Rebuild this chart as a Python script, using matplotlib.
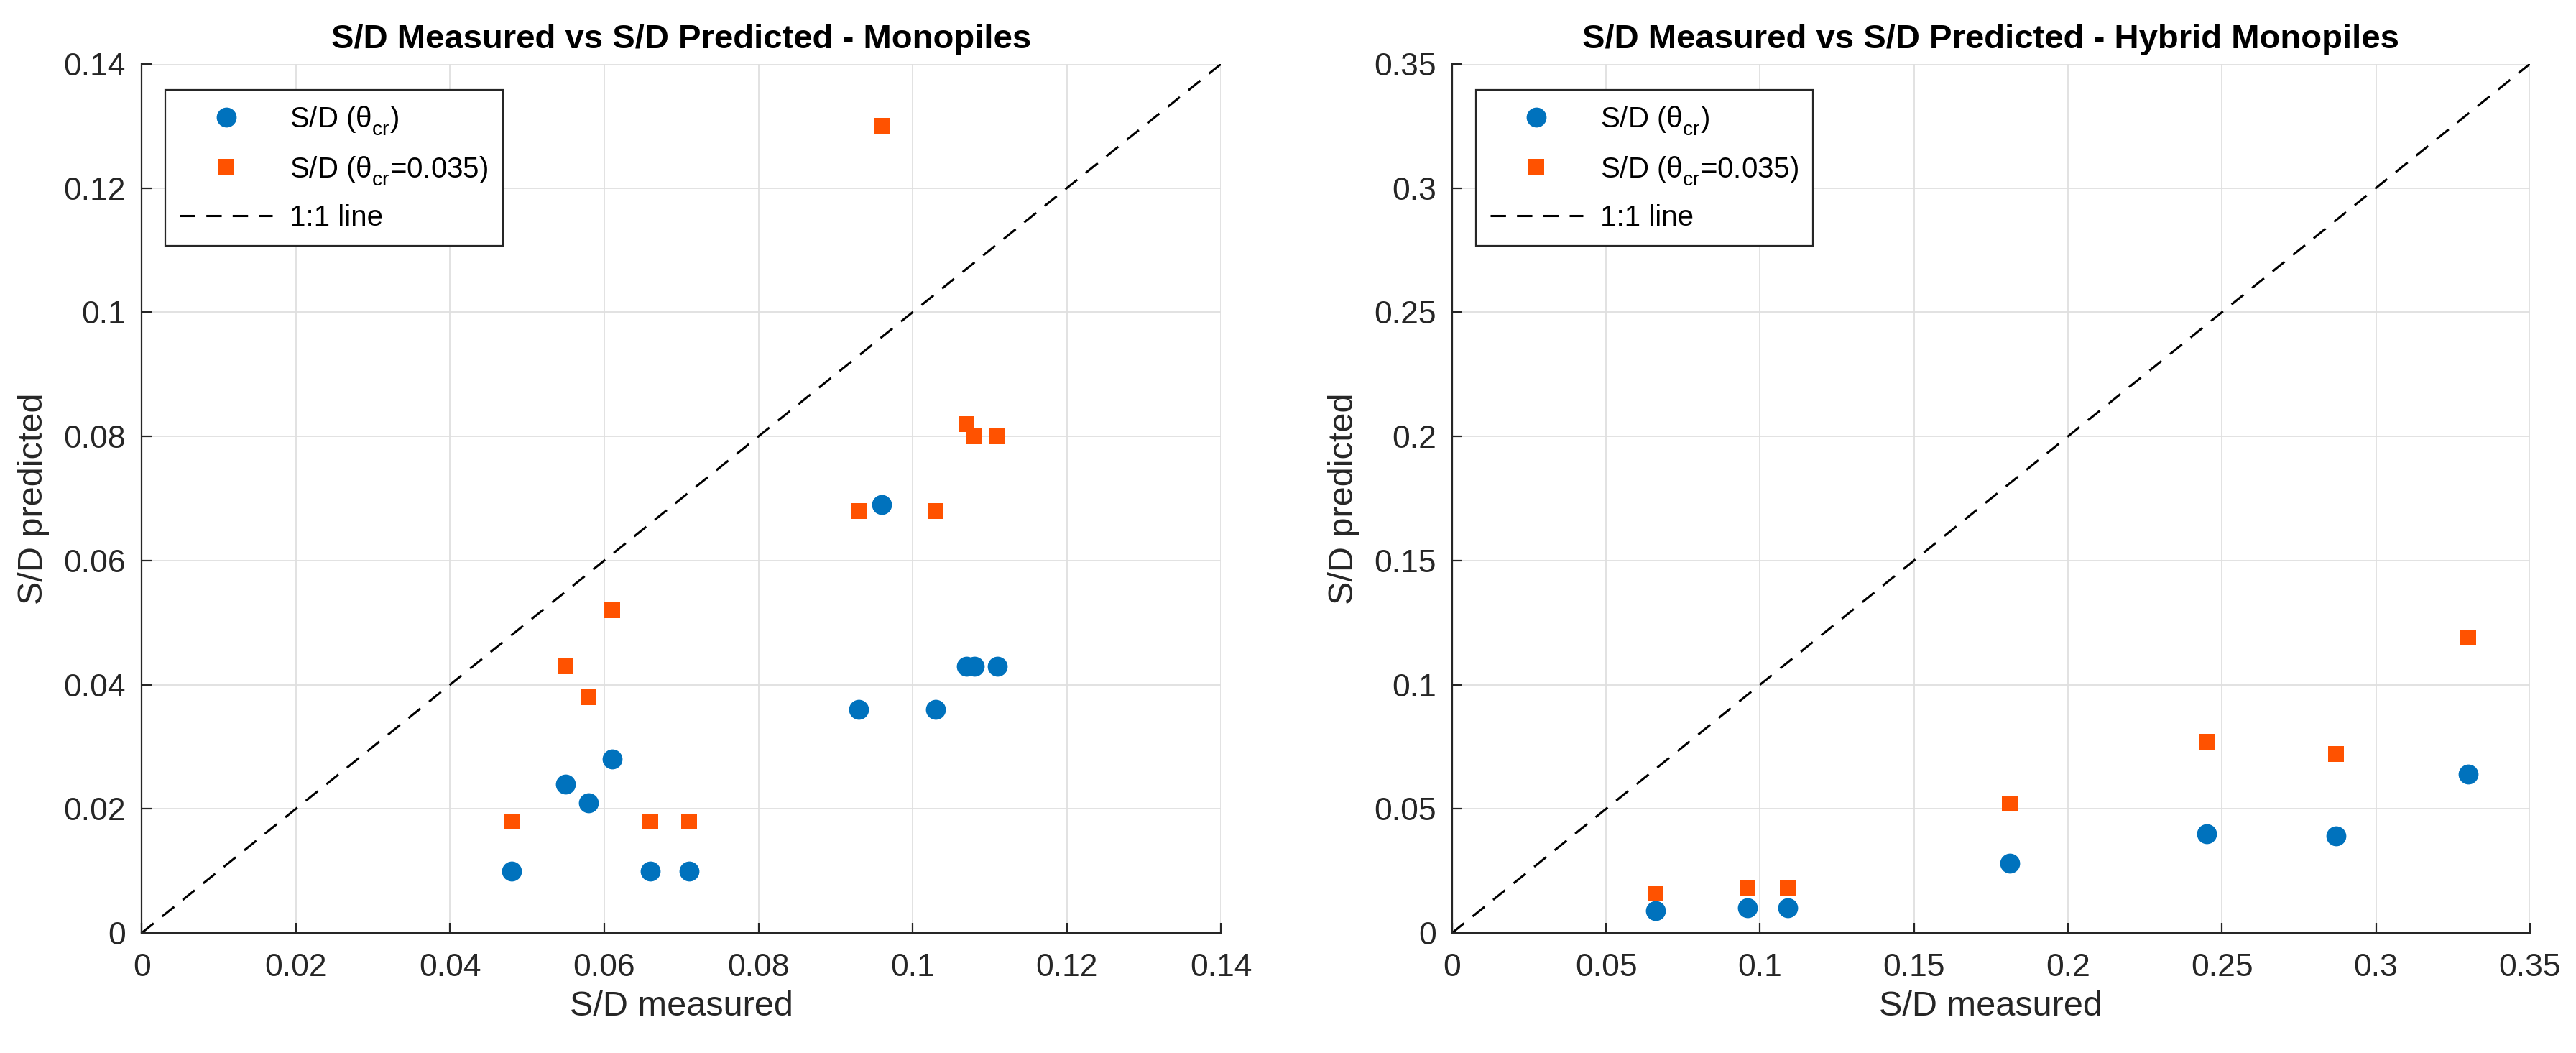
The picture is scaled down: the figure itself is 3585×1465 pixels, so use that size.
import numpy as np
import matplotlib
matplotlib.use("Agg")
import matplotlib.pyplot as plt
from matplotlib.ticker import FuncFormatter

plt.rcParams['font.family'] = ['Liberation Sans', 'DejaVu Sans']
plt.rcParams['mathtext.fontset'] = 'custom'
plt.rcParams['mathtext.rm'] = 'Liberation Sans'
plt.rcParams['mathtext.it'] = 'Liberation Sans'
plt.rcParams['mathtext.default'] = 'regular'

# lower the subscripts a bit, like the MATLAB tex interpreter does
try:
    import matplotlib._mathtext as _mt
    _mt.FontConstantsBase.sub1 = 0.5
    _mt.FontConstantsBase.sub2 = 0.6
except Exception:
    pass

# Monopiles
mono_measured = [0.048, 0.055, 0.058, 0.061, 0.066, 0.071, 0.093, 0.096, 0.103, 0.107, 0.108, 0.111]
mono_pred_theta = [0.010, 0.024, 0.021, 0.028, 0.010, 0.010, 0.036, 0.069, 0.036, 0.043, 0.043, 0.043]
mono_pred_035 = [0.018, 0.043, 0.038, 0.052, 0.018, 0.018, 0.068, 0.130, 0.068, 0.082, 0.080, 0.080]

# Hybrid monopiles
hyb_measured = [0.066, 0.096, 0.109, 0.181, 0.245, 0.287, 0.330]
hyb_pred_theta = [0.009, 0.010, 0.010, 0.028, 0.040, 0.039, 0.064]
hyb_pred_035 = [0.016, 0.018, 0.018, 0.052, 0.077, 0.072, 0.119]

mono_ticks = [0, 0.02, 0.04, 0.06, 0.08, 0.1, 0.12, 0.14]
hyb_ticks = [0, 0.05, 0.1, 0.15, 0.2, 0.25, 0.3, 0.35]

blue = '#0072BD'
orange = '#FF5200'
axcol = '#262626'

fig = plt.figure(figsize=(35.85, 14.65), dpi=100)
ax1 = fig.add_axes([0.0550, 0.1140, 0.4190, 0.8253])
ax2 = fig.add_axes([0.5637, 0.1140, 0.4184, 0.8253])


def fmt(v, pos):
    return '%g' % v


def draw(ax, xm, y1, y2, lim, ticks, title):
    ax.plot(xm, y1, 'o', color=blue, markersize=20, markeredgewidth=0,
            label=r'S/D ($\theta_{cr}$)', zorder=3)
    ax.plot(xm, y2, 's', color=orange, markersize=16, markeredgewidth=0,
            label=r'S/D ($\theta_{cr}$=0.035)', zorder=3)
    ax.plot([0, lim], [0, lim], color='black', linewidth=2.2,
            dashes=(7, 5), label='1:1 line', zorder=2)
    ax.set_xlim(0, lim)
    ax.set_ylim(0, lim)
    ax.set_xticks(ticks)
    ax.set_yticks(ticks)
    ax.xaxis.set_major_formatter(FuncFormatter(fmt))
    ax.yaxis.set_major_formatter(FuncFormatter(fmt))
    ax.grid(True, color='#dfdfdf', linewidth=1.3)
    ax.set_axisbelow(True)
    for s in ['top', 'right']:
        ax.spines[s].set_visible(False)
    for s in ['left', 'bottom']:
        ax.spines[s].set_color(axcol)
        ax.spines[s].set_linewidth(1.6)
    ax.tick_params(direction='in', length=10, width=1.6, colors=axcol,
                   labelsize=32)
    ax.tick_params(axis='x', pad=20)
    ax.tick_params(axis='y', pad=16)
    ax.set_xlabel('S/D measured', fontsize=35, color=axcol, labelpad=8)
    ax.set_ylabel('S/D predicted', fontsize=35, color=axcol, labelpad=14)
    ax.set_title(title, fontsize=34, fontweight='bold', pad=16)
    leg = ax.legend(loc='upper left', bbox_to_anchor=(0.022, 0.970),
                    borderaxespad=0, fontsize=29, handlelength=3.2,
                    handletextpad=0.6, labelspacing=0.6, borderpad=0.5,
                    fancybox=False, framealpha=1, edgecolor=axcol)
    leg.get_frame().set_linewidth(1.6)


draw(ax1, mono_measured, mono_pred_theta, mono_pred_035, 0.14, mono_ticks,
     'S/D Measured vs S/D Predicted - Monopiles')
draw(ax2, hyb_measured, hyb_pred_theta, hyb_pred_035, 0.35, hyb_ticks,
     'S/D Measured vs S/D Predicted - Hybrid Monopiles')

fig.savefig('out.png', dpi=100)
